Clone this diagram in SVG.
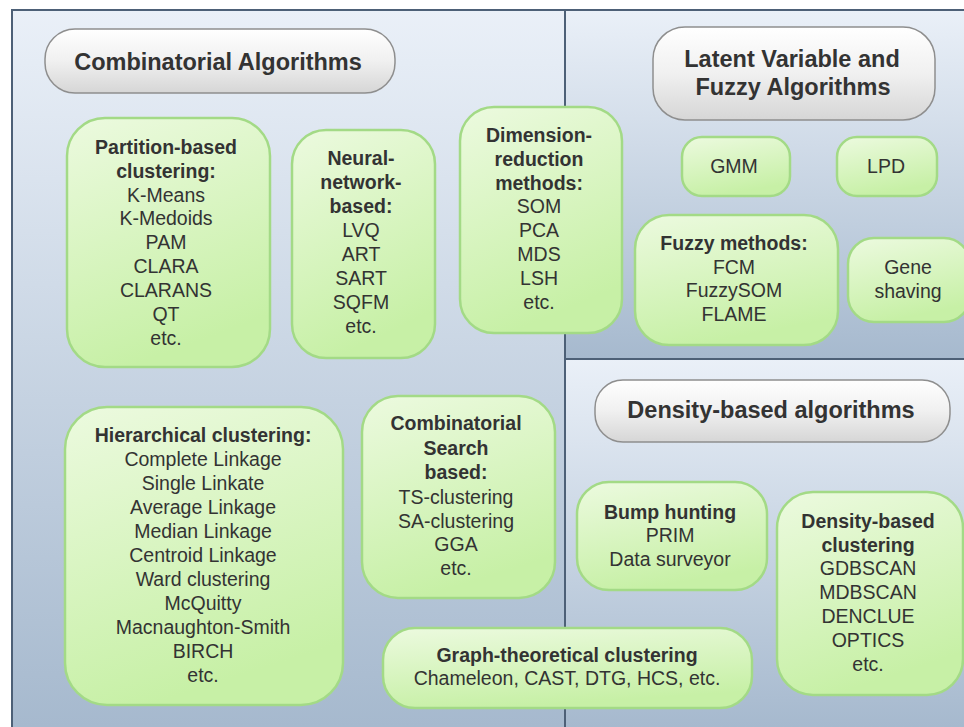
<svg xmlns="http://www.w3.org/2000/svg" width="964" height="727" viewBox="0 0 964 727">
<defs>
<linearGradient id="panel" x1="0" y1="0" x2="0" y2="1">
<stop offset="0" stop-color="#eaf0f8"/>
<stop offset="1" stop-color="#a6b9ce"/>
</linearGradient>
<linearGradient id="green" x1="0" y1="0" x2="0.3" y2="1">
<stop offset="0" stop-color="#ecfadf"/>
<stop offset="1" stop-color="#c7f0a6"/>
</linearGradient>
<linearGradient id="gray" x1="0" y1="0" x2="0" y2="1">
<stop offset="0" stop-color="#ffffff"/>
<stop offset="0.5" stop-color="#f0f0f0"/>
<stop offset="1" stop-color="#d6d6d6"/>
</linearGradient>
</defs>
<style>
.panel{fill:url(#panel);stroke:none}
.border{stroke:#4d6077;stroke-width:2;fill:none}
.node{fill:url(#green);stroke:#a3da86;stroke-width:2.5}
.title{fill:url(#gray);stroke:#8e8e8e;stroke-width:1.5}
text{font-family:"Liberation Sans",Arial,sans-serif;fill:#333;text-anchor:middle}
.t{font-size:23.5px;font-weight:bold}
.b{font-size:19.5px;font-weight:bold}
.r{font-size:19.5px}
</style>
<rect x="0" y="0" width="964" height="727" fill="#ffffff"/>
<g id="panels">
<rect class="panel" x="12" y="10" width="553" height="717"/>
<rect class="panel" x="565" y="10" width="399" height="349"/>
<rect class="panel" x="565" y="359" width="399" height="368"/>
<path class="border" d="M12 727 V10 H964 M565 10 V727 M565 359 H964"/>
</g>
<g id="connectors"></g>
<g id="title-combinatorial">
<rect class="title" x="45" y="29" width="350" height="64" rx="30"/>
<text class="t" x="218" y="70">Combinatorial Algorithms</text>
</g>
<g id="title-latent">
<rect class="title" x="653" y="27" width="282" height="93" rx="32"/>
<text class="t" x="792" y="67">Latent Variable and</text>
<text class="t" x="793" y="95">Fuzzy Algorithms</text>
</g>
<g id="title-density">
<rect class="title" x="595" y="380" width="355" height="62" rx="28"/>
<text class="t" x="771" y="418">Density-based algorithms</text>
</g>
<g id="partition">
<rect class="node" x="67" y="118" width="203" height="249" rx="38"/>
<text class="b" x="166" y="154">Partition-based</text>
<text class="b" x="166" y="178">clustering:</text>
<text class="r" x="166" y="202">K-Means</text>
<text class="r" x="166" y="225">K-Medoids</text>
<text class="r" x="166" y="249">PAM</text>
<text class="r" x="166" y="273">CLARA</text>
<text class="r" x="166" y="297">CLARANS</text>
<text class="r" x="166" y="321">QT</text>
<text class="r" x="166" y="345">etc.</text>
</g>
<g id="neural">
<rect class="node" x="292" y="130" width="143" height="228" rx="34"/>
<text class="b" x="361" y="165">Neural-</text>
<text class="b" x="361" y="189">network-</text>
<text class="b" x="361" y="213">based:</text>
<text class="r" x="361" y="237">LVQ</text>
<text class="r" x="361" y="261">ART</text>
<text class="r" x="361" y="285">SART</text>
<text class="r" x="361" y="309">SQFM</text>
<text class="r" x="361" y="333">etc.</text>
</g>
<g id="dimension">
<rect class="node" x="460" y="107" width="162" height="226" rx="34"/>
<text class="b" x="539" y="142">Dimension-</text>
<text class="b" x="539" y="166">reduction</text>
<text class="b" x="539" y="190">methods:</text>
<text class="r" x="539" y="213">SOM</text>
<text class="r" x="539" y="237">PCA</text>
<text class="r" x="539" y="261">MDS</text>
<text class="r" x="539" y="285">LSH</text>
<text class="r" x="539" y="309">etc.</text>
</g>
<g id="gmm">
<rect class="node" x="682" y="137" width="108" height="59" rx="20"/>
<text class="r" x="734" y="173">GMM</text>
</g>
<g id="lpd">
<rect class="node" x="837" y="137" width="100" height="59" rx="20"/>
<text class="r" x="886" y="173">LPD</text>
</g>
<g id="fuzzy">
<rect class="node" x="635" y="215" width="203" height="130" rx="34"/>
<text class="b" x="734" y="250">Fuzzy methods:</text>
<text class="r" x="734" y="274">FCM</text>
<text class="r" x="734" y="297">FuzzySOM</text>
<text class="r" x="734" y="321">FLAME</text>
</g>
<g id="gene">
<rect class="node" x="848" y="238" width="122" height="84" rx="26"/>
<text class="r" x="908" y="274">Gene</text>
<text class="r" x="908" y="298">shaving</text>
</g>
<g id="hierarchical">
<rect class="node" x="65" y="407" width="278" height="298" rx="42"/>
<text class="b" x="203" y="442">Hierarchical clustering:</text>
<text class="r" x="203" y="466">Complete Linkage</text>
<text class="r" x="203" y="490">Single Linkate</text>
<text class="r" x="203" y="514">Average Linkage</text>
<text class="r" x="203" y="538">Median Linkage</text>
<text class="r" x="203" y="562">Centroid Linkage</text>
<text class="r" x="203" y="586">Ward clustering</text>
<text class="r" x="203" y="610">McQuitty</text>
<text class="r" x="203" y="634">Macnaughton-Smith</text>
<text class="r" x="203" y="658">BIRCH</text>
<text class="r" x="203" y="682">etc.</text>
</g>
<g id="combsearch">
<rect class="node" x="362" y="396" width="193" height="202" rx="36"/>
<text class="b" x="456" y="430">Combinatorial</text>
<text class="b" x="456" y="455">Search</text>
<text class="b" x="456" y="479">based:</text>
<text class="r" x="456" y="504">TS-clustering</text>
<text class="r" x="456" y="528">SA-clustering</text>
<text class="r" x="456" y="551">GGA</text>
<text class="r" x="456" y="575">etc.</text>
</g>
<g id="graph">
<rect class="node" x="383" y="628" width="369" height="80" rx="32"/>
<text class="b" x="567" y="662">Graph-theoretical clustering</text>
<text class="r" x="567" y="685">Chameleon, CAST, DTG, HCS, etc.</text>
</g>
<g id="bump">
<rect class="node" x="577" y="482" width="190" height="108" rx="32"/>
<text class="b" x="670" y="519">Bump hunting</text>
<text class="r" x="670" y="542">PRIM</text>
<text class="r" x="670" y="566">Data surveyor</text>
</g>
<g id="densityclust">
<rect class="node" x="777" y="492" width="186" height="203" rx="36"/>
<text class="b" x="868" y="528">Density-based</text>
<text class="b" x="868" y="552">clustering</text>
<text class="r" x="868" y="575">GDBSCAN</text>
<text class="r" x="868" y="599">MDBSCAN</text>
<text class="r" x="868" y="623">DENCLUE</text>
<text class="r" x="868" y="647">OPTICS</text>
<text class="r" x="868" y="671">etc.</text>
</g>
</svg>
